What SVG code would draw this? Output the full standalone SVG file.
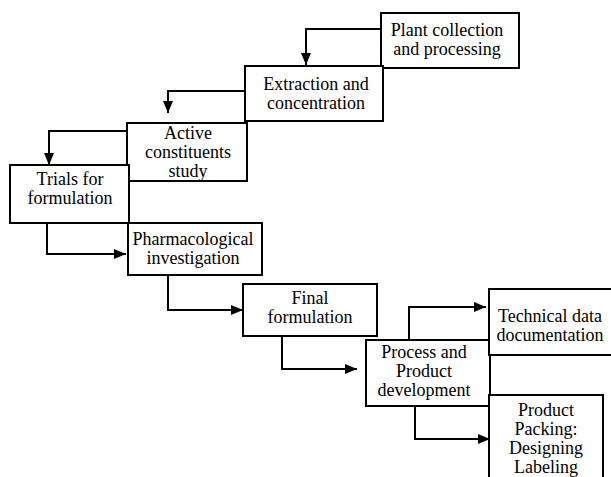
<svg xmlns="http://www.w3.org/2000/svg" width="611" height="477" viewBox="0 0 611 477">
<style>
.box{fill:#fff;stroke:#000;stroke-width:2}
.t{font-family:'Liberation Serif','Times New Roman',Times,serif;font-size:18px;fill:#000;text-anchor:middle}
.c{fill:none;stroke:#000;stroke-width:2}
</style>
<defs>
<marker id="ah" markerWidth="12" markerHeight="10" refX="12" refY="5" orient="auto" markerUnits="userSpaceOnUse">
<path d="M0,0 L12,5 L0,10 Z" fill="#000"/>
</marker>
</defs>
<rect width="611" height="477" fill="#fff"/>
<g id="connectors">
<path class="c" d="M381,29 H306 V65" marker-end="url(#ah)"/>
<path class="c" d="M245,91 H168 V113" marker-end="url(#ah)"/>
<path class="c" d="M127,131 H49 V165" marker-end="url(#ah)"/>
<path class="c" d="M47,223 V254 H126" marker-end="url(#ah)"/>
<path class="c" d="M168,275 V310 H243" marker-end="url(#ah)"/>
<path class="c" d="M282,336 V369 H357" marker-end="url(#ah)"/>
<path class="c" d="M409,340 V307 H486" marker-end="url(#ah)"/>
<path class="c" d="M415,406 V439 H490" marker-end="url(#ah)"/>
</g>
<g font-family="Liberation Serif, serif">
<g id="plant">
<rect class="box" x="381" y="13" width="138" height="55"/>
<text class="t" x="447" y="36">Plant collection</text>
<text class="t" x="447" y="55">and processing</text>
</g>
<g id="extraction">
<rect class="box" x="245" y="66" width="138" height="55"/>
<text class="t" x="316" y="90">Extraction and</text>
<text class="t" x="316" y="109">concentration</text>
</g>
<g id="active">
<rect class="box" x="127" y="123" width="120" height="58"/>
<text class="t" x="188" y="139">Active</text>
<text class="t" x="188" y="158">constituents</text>
<text class="t" x="188" y="177">study</text>
</g>
<g id="trials">
<rect class="box" x="10" y="165" width="119" height="58"/>
<text class="t" x="70" y="185">Trials for</text>
<text class="t" x="70" y="204">formulation</text>
</g>
<g id="pharma">
<rect class="box" x="128" y="223" width="134" height="52"/>
<text class="t" x="193" y="245">Pharmacological</text>
<text class="t" x="193" y="264">investigation</text>
</g>
<g id="final">
<rect class="box" x="243" y="284" width="134" height="52"/>
<text class="t" x="310" y="304">Final</text>
<text class="t" x="310" y="323">formulation</text>
</g>
<g id="process">
<rect class="box" x="366" y="340" width="124" height="66"/>
<text class="t" x="424" y="358">Process and</text>
<text class="t" x="424" y="377">Product</text>
<text class="t" x="424" y="396">development</text>
</g>
<g id="technical">
<rect class="box" x="489" y="289" width="130" height="66"/>
<text class="t" x="550" y="322">Technical data</text>
<text class="t" x="550" y="341">documentation</text>
</g>
<g id="packing">
<rect class="box" x="489" y="395" width="114" height="95"/>
<text class="t" x="546" y="416">Product</text>
<text class="t" x="546" y="435">Packing:</text>
<text class="t" x="546" y="454">Designing</text>
<text class="t" x="546" y="473">Labeling</text>
</g>
</g>
</svg>
